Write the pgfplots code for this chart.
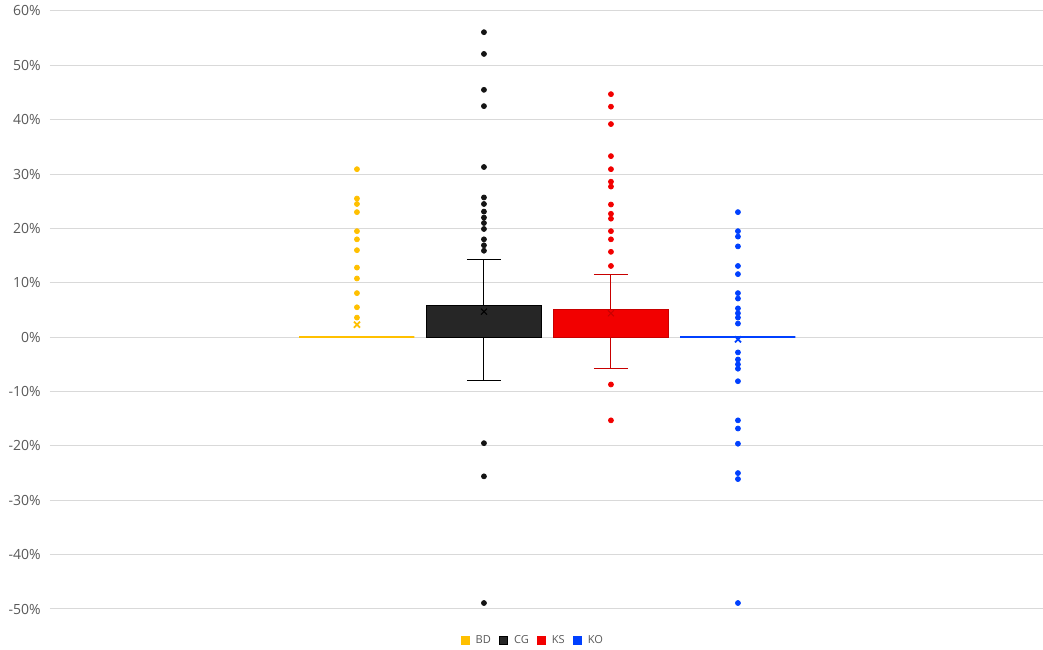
\documentclass[border=0pt]{standalone}
\usepackage{fontspec}
\setmainfont{Open Sans}
\usepackage{pgfplots}
\pgfplotsset{compat=1.18}
\usepgfplotslibrary{statistics}
\definecolor{bd}{RGB}{255,192,0}
\definecolor{cgfill}{RGB}{38,38,38}
\definecolor{cgdot}{RGB}{20,20,20}
\definecolor{ks}{RGB}{242,0,0}
\definecolor{ksline}{RGB}{200,0,0}
\definecolor{ko}{RGB}{0,64,255}
\definecolor{txt}{RGB}{89,89,89}
\definecolor{grd}{RGB}{217,217,217}
\begin{document}
\begin{tikzpicture}
\path[use as bounding box] (0,0) rectangle (782.25pt,487.5pt);
\begin{axis}[
  at={(37.5pt,30.75pt)}, anchor=south west,
  scale only axis, width=744.75pt, height=448.5pt,
  xmin=-2.417, xmax=5.402, ymin=-50, ymax=60,
  boxplot/draw direction=y,
  xtick=\empty,
  ytick={-50,-40,...,60},
  yticklabel={\pgfmathprintnumber[assume math mode=true]{\tick}\%},
  yticklabel style={font=\fontsize{10.5}{12}\selectfont, text=txt, xshift=-3.5pt},
  ymajorgrids, grid style={grd, line width=0.75pt},
  axis line style={draw=none},
  major tick length=0pt, tick style={draw=none},
  clip=false,
  legend columns=4,
  legend style={at={(0.5,0)}, anchor=center, yshift=-23.5pt, xshift=-10pt, draw=none, fill=none,
    font=\fontsize{8.3}{10}\selectfont, text=txt,
    /tikz/every odd column/.append style={column sep=2.5pt},
    /tikz/every even column/.append style={column sep=4pt}},
]
% BD
\addplot[forget plot, draw=bd, line width=1.3pt,
  mark=*, mark size=1.9pt, mark options={draw=bd, fill=bd, line width=0.5pt},
  boxplot prepared={draw position=0, lower whisker=0, lower quartile=0, median=0,
    upper quartile=0, upper whisker=0, average=2.3, box extend=0.906, whisker extend=0.27,
    every average/.style={/tikz/mark=x, /tikz/mark size=3.2pt, /tikz/line width=0.6pt}}]
  table[row sep=\\, y index=0] {y\\ 30.9\\ 25.5\\ 24.5\\ 23.0\\ 19.5\\ 18.0\\ 16.0\\ 12.8\\ 10.8\\ 8.1\\ 5.5\\ 3.6\\};
% CG
\addplot[forget plot, draw=black, line width=0.75pt,
  mark=*, mark size=1.9pt, mark options={draw=cgdot, fill=cgdot, line width=0.5pt},
  boxplot prepared={draw position=1, lower whisker=-8.0, lower quartile=0, median=0,
    upper quartile=5.9, upper whisker=14.3, average=4.7, box extend=0.906, whisker extend=0.27,
    every box/.style={fill=cgfill, draw=black, line width=0.75pt},
    every average/.style={/tikz/mark=x, /tikz/mark size=3.2pt, /tikz/line width=0.6pt}}]
  table[row sep=\\, y index=0] {y\\ 56.1\\ 52.1\\ 45.5\\ 42.5\\ 31.3\\ 25.7\\ 24.5\\ 23.1\\ 22.0\\ 21.0\\ 19.9\\ 18.0\\ 16.9\\ 15.9\\ -19.5\\ -25.6\\ -48.9\\};
% KS
\addplot[forget plot, draw=ksline, line width=0.75pt,
  mark=*, mark size=1.9pt, mark options={draw=ks, fill=ks, line width=0.5pt},
  boxplot prepared={draw position=2, lower whisker=-5.8, lower quartile=0, median=0,
    upper quartile=5.1, upper whisker=11.6, average=4.4, box extend=0.906, whisker extend=0.27,
    every box/.style={fill=ks, draw=ksline, line width=0.75pt},
    every average/.style={/tikz/mark=x, /tikz/mark size=3.2pt, /tikz/line width=0.6pt}}]
  table[row sep=\\, y index=0] {y\\ 44.7\\ 42.4\\ 39.2\\ 33.3\\ 30.9\\ 28.6\\ 27.7\\ 24.4\\ 22.7\\ 21.8\\ 19.5\\ 18.0\\ 15.7\\ 13.1\\ -8.7\\ -15.3\\};
% KO
\addplot[forget plot, draw=ko, line width=1.3pt,
  mark=*, mark size=1.9pt, mark options={draw=ko, fill=ko, line width=0.5pt},
  boxplot prepared={draw position=3, lower whisker=0, lower quartile=0, median=0,
    upper quartile=0, upper whisker=0, average=-0.4, box extend=0.906, whisker extend=0.27,
    every average/.style={/tikz/mark=x, /tikz/mark size=3.2pt, /tikz/line width=0.6pt}}]
  table[row sep=\\, y index=0] {y\\ 23.0\\ 19.5\\ 18.5\\ 16.7\\ 13.1\\ 11.6\\ 8.1\\ 7.1\\ 5.3\\ 4.4\\ 3.6\\ 2.5\\ -2.8\\ -4.1\\ -5.0\\ -5.8\\ -8.1\\ -15.3\\ -16.8\\ -19.6\\ -25.0\\ -26.1\\ -48.9\\};
\addlegendimage{legend image code/.code={\fill[bd] (0pt,-3.2pt) rectangle (6.4pt,3.2pt);}}
\addlegendentry{BD}
\addlegendimage{legend image code/.code={\filldraw[fill=cgfill, draw=black, line width=0.4pt] (0pt,-3.2pt) rectangle (6.4pt,3.2pt);}}
\addlegendentry{CG}
\addlegendimage{legend image code/.code={\fill[ks] (0pt,-3.2pt) rectangle (6.4pt,3.2pt);}}
\addlegendentry{KS}
\addlegendimage{legend image code/.code={\fill[ko] (0pt,-3.2pt) rectangle (6.4pt,3.2pt);}}
\addlegendentry{KO}
\end{axis}
\end{tikzpicture}
\end{document}
